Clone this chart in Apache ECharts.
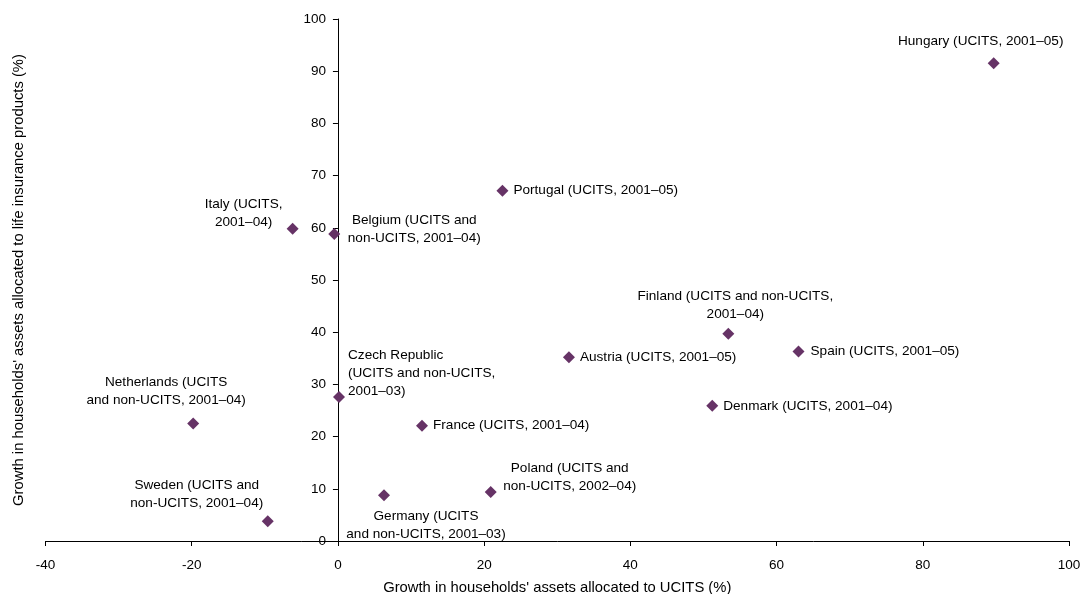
<!doctype html>
<html>
<head>
    <meta charset="UTF-8">
    <title>UCITS vs life insurance growth</title>
    <script src="https://cdn.jsdelivr.net/npm/echarts@6/dist/echarts.min.js"></script>
    <style>
        html, body { margin: 0; padding: 0; background: #fff; }
        #main { width: 1082px; height: 594px; }
    </style>
</head>
<body>
<div id="main"></div>
<script type="text/javascript">
    // countries and their values
    var countries = [
        'Hungary (UCITS, 2001–05)',
        'Portugal (UCITS, 2001–05)',
        'Italy (UCITS,\n2001–04)',
        'Belgium (UCITS and\nnon-UCITS, 2001–04)',
        'Finland (UCITS and non-UCITS,\n2001–04)',
        'Spain (UCITS, 2001–05)',
        'Austria (UCITS, 2001–05)',
        'Czech Republic\n(UCITS and non-UCITS,\n2001–03)',
        'Denmark (UCITS, 2001–04)',
        'Netherlands (UCITS\nand non-UCITS, 2001–04)',
        'France (UCITS, 2001–04)',
        'Poland (UCITS and\nnon-UCITS, 2002–04)',
        'Germany (UCITS\nand non-UCITS, 2001–03)',
        'Sweden (UCITS and\nnon-UCITS, 2001–04)'
    ];
    var ucitsGrowth = [89.7, 22.5, -6.2, -0.5, 53.4, 63.0, 31.6, 0.15, 51.2, -19.8, 11.5, 20.9, 6.3, -9.6];
    var lifeGrowth = [91.5, 67.1, 59.8, 58.8, 39.7, 36.3, 35.2, 27.6, 25.9, 22.5, 22.1, 9.4, 8.75, 3.8];

    var xTicks = [-40, -20, 0, 20, 40, 60, 80, 100];
    var yTicks = [0, 10, 20, 30, 40, 50, 60, 70, 80, 90, 100];

    // where each label sits relative to its marker: [dx, dy, align]
    var labelPlace = [
        [-13, -22, 'center'],
        [11, 0, 'left'],
        [-49, -16, 'center'],
        [80, -5, 'center'],
        [7, -29, 'center'],
        [12, 0, 'left'],
        [11, 0, 'left'],
        [9, -24, 'left'],
        [11, 0, 'left'],
        [-27, -32, 'center'],
        [11, 0, 'left'],
        [79, -15, 'center'],
        [42, 30, 'center'],
        [-71, -27, 'center']
    ];

    var font = '"Liberation Sans", Arial, sans-serif';
    var purple = '#663366';
    var gridLeft = 45.5;

    var points = [];
    for (var i = 0; i < countries.length; i++) {
        var p = labelPlace[i];
        points.push({
            name: countries[i],
            value: [ucitsGrowth[i], lifeGrowth[i]],
            label: {
                show: true,
                position: 'inside',
                offset: [p[0], p[1]],
                align: p[2],
                verticalAlign: 'middle'
            }
        });
    }

    var myChart = echarts.init(document.getElementById('main'));
    var option = {
        animation: false,
        grid: {left: gridLeft, right: 13, top: 19, bottom: 53, outerBoundsMode: 'none', containLabel: false},
        xAxis: {
            type: 'value',
            min: xTicks[0],
            max: xTicks[xTicks.length - 1],
            interval: 20,
            name: "Growth in households' assets allocated to UCITS (%)",
            nameLocation: 'middle',
            nameGap: 39,
            nameTextStyle: {color: '#000', fontFamily: font, fontSize: 14.8},
            axisLine: {show: true, onZero: false, lineStyle: {color: '#000', width: 1}},
            axisTick: {show: true, inside: false, length: 5, lineStyle: {color: '#000'}},
            axisLabel: {color: '#000', fontFamily: font, fontSize: 13.5, margin: 17},
            splitLine: {show: false}
        },
        yAxis: {
            type: 'value',
            min: yTicks[0],
            max: yTicks[yTicks.length - 1],
            interval: 10,
            name: "Growth in households' assets allocated to life insurance products (%)",
            nameLocation: 'middle',
            nameGap: 19,
            nameTextStyle: {color: '#000', fontFamily: font, fontSize: 14.8},
            axisLine: {show: true, onZero: true, lineStyle: {color: '#000', width: 1}},
            axisTick: {show: true, inside: false, length: 5, lineStyle: {color: '#000'}},
            // labels are laid out from the grid edge, so pull them over to the zero line
            axisLabel: {color: '#000', fontFamily: font, fontSize: 13.5, margin: gridLeft - 326},
            splitLine: {show: false}
        },
        series: [{
            type: 'scatter',
            symbol: 'diamond',
            symbolSize: 12,
            itemStyle: {color: purple, opacity: 1},
            label: {
                formatter: '{b}',
                color: '#000',
                fontFamily: font,
                fontSize: 13.6,
                lineHeight: 18
            },
            data: points
        }]
    };
    myChart.setOption(option);
</script>
</body>
</html>
